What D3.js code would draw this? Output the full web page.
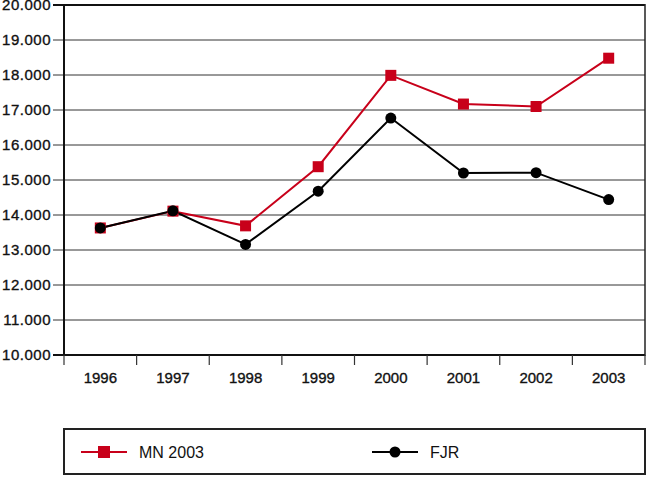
<!DOCTYPE html>
<html>
<head>
<meta charset="utf-8">
<script src="https://cdn.jsdelivr.net/npm/d3@7"></script>
<style>
  body { margin: 0; background: #fff; }
  svg { display: block; font-family: "Liberation Sans", Arial, sans-serif; }
</style>
</head>
<body>
<svg id="chart"></svg>
<script>
const years = ["1996", "1997", "1998", "1999", "2000", "2001", "2002", "2003"];
const mnValues = [13630, 14110, 13690, 15380, 17990, 17170, 17100, 18480];
const fjrValues = [13630, 14120, 13160, 14680, 16770, 15200, 15210, 14440];
const yTicks = [10000, 11000, 12000, 13000, 14000, 15000, 16000, 17000, 18000, 19000, 20000];
const seriesNames = ["MN 2003", "FJR"];

const width = 648;
const height = 477;
const margin = { top: 5, right: 3, bottom: 122, left: 64 };
const red = "#c8001a";

const svg = d3.select("#chart")
    .attr("width", width)
    .attr("height", height);

const x = d3.scaleBand()
    .domain(years)
    .range([margin.left, width - margin.right]);

const y = d3.scaleLinear()
    .domain([10000, 20000])
    .range([height - margin.bottom, margin.top]);

const fmt = d => d3.format(",")(d).replace(",", ".");

// grid lines
svg.append("g")
    .selectAll("line")
    .data(yTicks)
    .join("line")
    .attr("x1", margin.left - 11)
    .attr("x2", width - margin.right)
    .attr("y1", d => y(d))
    .attr("y2", d => y(d))
    .attr("stroke", d => (d === 10000 || d === 20000) ? "#111" : "#333")
    .attr("stroke-width", d => (d === 10000 || d === 20000) ? 2 : 1);

// y labels
svg.append("g")
    .selectAll("text")
    .data(yTicks)
    .join("text")
    .attr("x", margin.left - 13)
    .attr("y", d => y(d))
    .attr("dy", "0.36em")
    .attr("text-anchor", "end")
    .attr("font-size", "15px")
    .attr("letter-spacing", "0.5px")
    .attr("fill", "#111")
    .attr("stroke", "#111")
    .attr("stroke-width", 0.35)
    .text(fmt);

// left axis + right border
svg.append("line")
    .attr("x1", margin.left).attr("x2", margin.left)
    .attr("y1", margin.top - 1).attr("y2", y(10000) + 1)
    .attr("stroke", "#111").attr("stroke-width", 2);
svg.append("line")
    .attr("x1", width - margin.right).attr("x2", width - margin.right)
    .attr("y1", margin.top - 1).attr("y2", y(10000) + 1)
    .attr("stroke", "#222").attr("stroke-width", 1.5);

// x axis ticks at band edges
const edges = years.map(d => x(d)).concat([x(years[years.length - 1]) + x.bandwidth()]);
svg.append("g")
    .selectAll("line")
    .data(edges)
    .join("line")
    .attr("x1", d => d).attr("x2", d => d)
    .attr("y1", y(10000)).attr("y2", y(10000) + 10)
    .attr("stroke", "#333").attr("stroke-width", 1.2);

svg.append("g")
    .selectAll("text")
    .data(years)
    .join("text")
    .attr("x", d => x(d) + x.bandwidth() / 2)
    .attr("y", y(10000) + 28)
    .attr("text-anchor", "middle")
    .attr("font-size", "15px")
    .attr("fill", "#111")
    .attr("stroke", "#111")
    .attr("stroke-width", 0.35)
    .text(d => d);

const cx = d => x(d) + x.bandwidth() / 2;

const line = d3.line()
    .x((d, i) => cx(years[i]))
    .y(d => y(d));

// MN 2003
svg.append("path")
    .datum(mnValues)
    .attr("d", line)
    .attr("fill", "none")
    .attr("stroke", red)
    .attr("stroke-width", 2);

// FJR
svg.append("path")
    .datum(fjrValues)
    .attr("d", line)
    .attr("fill", "none")
    .attr("stroke", "#000")
    .attr("stroke-width", 2);

svg.append("g")
    .selectAll("rect")
    .data(mnValues)
    .join("rect")
    .attr("x", (d, i) => cx(years[i]) - 5.5)
    .attr("y", d => y(d) - 5.5)
    .attr("width", 11)
    .attr("height", 11)
    .attr("fill", red);

svg.append("g")
    .selectAll("circle")
    .data(fjrValues)
    .join("circle")
    .attr("cx", (d, i) => cx(years[i]))
    .attr("cy", d => y(d))
    .attr("r", 5.5)
    .attr("fill", "#000");

// legend
const legend = svg.append("g");
legend.append("rect")
    .attr("x", 64)
    .attr("y", 429)
    .attr("width", 581)
    .attr("height", 45)
    .attr("fill", "none")
    .attr("stroke", "#222")
    .attr("stroke-width", 2);

const legendItems = [
    { name: seriesNames[0], x0: 81, color: red, shape: "square" },
    { name: seriesNames[1], x0: 372, color: "#000", shape: "circle" }
];

legendItems.forEach(it => {
    const g = legend.append("g").attr("transform", `translate(${it.x0},452)`);
    g.append("line")
        .attr("x1", 0).attr("x2", 46)
        .attr("stroke", it.color).attr("stroke-width", 2);
    if (it.shape === "square") {
        g.append("rect").attr("x", 17).attr("y", -6).attr("width", 12).attr("height", 12).attr("fill", it.color);
    } else {
        g.append("circle").attr("cx", 23).attr("r", 5.5).attr("fill", it.color);
    }
    g.append("text")
        .attr("x", 58)
        .attr("y", 6)
        .attr("font-size", "16px")
        .attr("fill", "#111")
        .text(it.name);
});
</script>
</body>
</html>
